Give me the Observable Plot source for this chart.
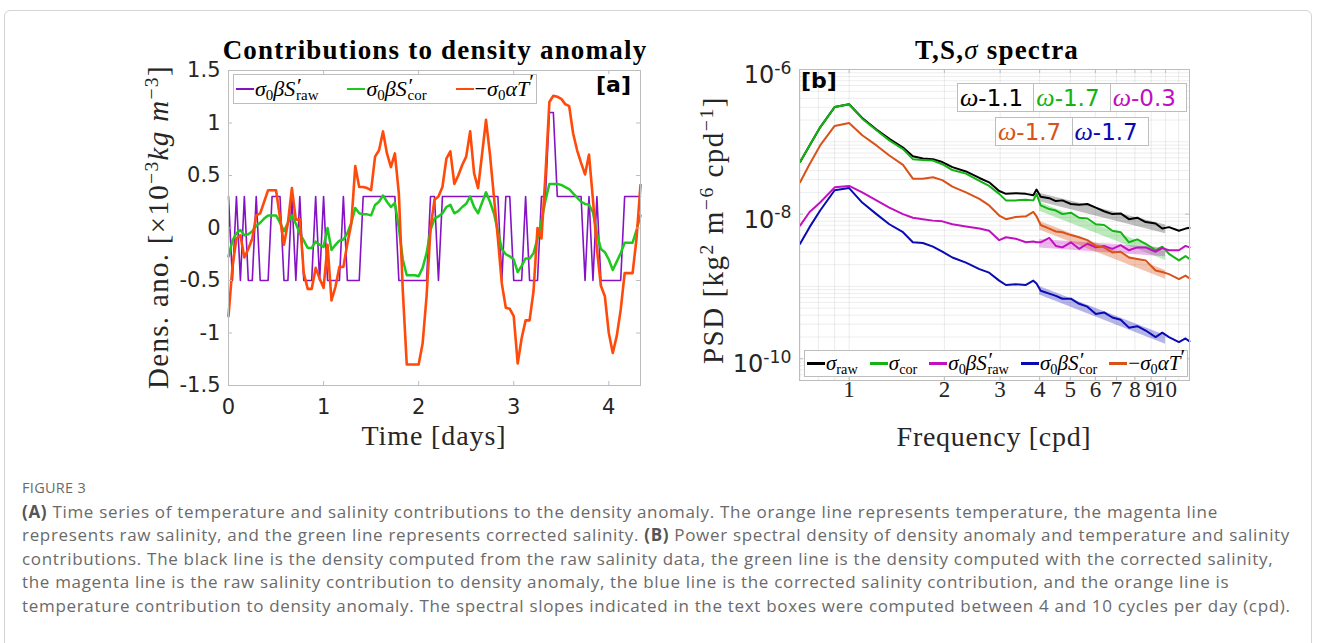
<!DOCTYPE html>
<html><head><meta charset="utf-8">
<script src="https://cdn.jsdelivr.net/npm/d3@7"></script>
<script src="https://cdn.jsdelivr.net/npm/@observablehq/plot@0.6"></script>
<style>
body{margin:0;background:#fff;}
#wrap{position:relative;width:1328px;height:643px;overflow:hidden;background:#fff;}
#frame{position:absolute;left:4px;top:10px;width:1306px;height:700px;border:1px solid #d4d4d4;border-radius:6px;}
.abs{position:absolute;white-space:nowrap;}
.serif{font-family:"Liberation Serif","DejaVu Serif",serif;}
.sans{font-family:"DejaVu Sans",sans-serif;}
.title{font-weight:bold;font-size:27px;letter-spacing:1.2px;color:#000;transform:translateX(-50%);line-height:1;}
.lbl{font-size:28px;color:#262626;line-height:1;}
i{font-style:italic;}
.sb{font-size:0.68em;position:relative;top:0.3em;font-style:normal;}
.sp{font-size:0.68em;position:relative;top:-0.5em;}
.ss{display:inline-block;position:relative;}
.ss .pr{position:absolute;left:0.08em;top:-0.12em;font-size:1em;font-style:normal;}
.ss .rw{font-size:0.68em;position:relative;top:0.3em;font-style:normal;margin-left:0.05em;}
.legend{position:absolute;background:#fff;border:1px solid #bdbdbd;display:flex;align-items:center;justify-content:space-between;padding:0 2px;font-family:"Liberation Serif",serif;color:#000;white-space:nowrap;box-sizing:border-box;}
.item{display:inline-flex;align-items:center;}
.sw{display:inline-block;height:2.5px;margin-right:1px;}
.slope{position:absolute;display:flex;background:#fff;border:1px solid #bdbdbd;box-sizing:border-box;}
.slope div{flex:1;border-left:1px solid #bdbdbd;display:flex;align-items:center;padding-left:2px;font-family:"DejaVu Sans",sans-serif;font-size:23px;}
.slope div:first-child{border-left:none;}
.slope i{font-family:"Liberation Serif",serif;font-size:26px;}
#cap{position:absolute;left:22px;top:476px;font-family:"Open Sans","Noto Sans",sans-serif;color:#6a6a6a;font-size:17px;letter-spacing:0.68px;line-height:23.5px;white-space:nowrap;}
#cap .fig{font-size:14.5px;letter-spacing:0.3px;}
#cap b{color:#555;}
</style></head><body>
<div id="wrap">
<div id="frame"></div>
</div>
<script>
// ---------- Panel (a): time series, hourly samples ----------
const sampleHours = 1 / 24; // sampling interval in days
const sigmaBetaSraw = [
  0.3,-0.5,0.3,-0.5,0.3,-0.5,-0.5,0.3,-0.5,-0.5,
  -0.5,0.3,0.3,0.3,-0.5,-0.5,0.3,-0.5,0.3,-0.5,
  -0.5,-0.5,0.3,-0.5,0.3,-0.5,-0.5,-0.5,-0.5,0.3,
  -0.5,-0.5,-0.5,-0.5,0.3,0.3,0.3,0.3,0.3,0.3,
  0.3,0.3,0.3,-0.5,-0.5,-0.5,-0.5,-0.5,-0.5,-0.5,
  -0.5,0.3,0.3,-0.5,0.3,0.3,0.3,0.3,0.3,0.3,
  0.3,0.3,0.3,0.3,0.3,0.3,0.3,0.3,0.3,-0.5,
  0.3,0.3,-0.5,-0.5,-0.5,0.3,-0.5,-0.5,-0.5,0.3,
  0.3,1.1,1.1,0.3,0.3,0.3,0.3,0.3,0.3,0.3,
  -0.5,0.3,-0.5,0.3,-0.5,-0.5,-0.5,-0.5,-0.5,-0.5,
  0.3,0.3,0.3,0.3,0.3];
const sigmaBetaScor = [
  -0.27,-0.12,-0.05,-0.02,-0.07,-0.06,-0.03,0.02,0.05,0.09,
  0.12,0.12,0.12,0.05,-0.03,0.05,0.12,0.04,-0.05,-0.12,
  -0.19,-0.19,-0.13,-0.16,-0.18,0.0,-0.21,-0.16,-0.12,-0.11,
  -0.05,0.05,0.19,0.14,0.13,0.13,0.12,0.22,0.25,0.31,
  0.25,0.2,0.24,0.0,-0.3,-0.45,-0.45,-0.45,-0.46,-0.38,
  -0.24,-0.02,0.09,0.11,0.14,0.2,0.22,0.14,0.16,0.2,
  0.23,0.3,0.2,0.14,0.24,0.34,0.25,0.14,-0.03,-0.2,
  -0.25,-0.27,-0.3,-0.42,-0.36,-0.29,-0.29,-0.24,-0.1,0.07,
  0.26,0.42,0.42,0.42,0.41,0.39,0.37,0.33,0.29,0.25,
  0.23,0.22,0.15,-0.05,-0.2,-0.23,-0.3,-0.4,-0.32,-0.24,
  -0.14,-0.14,-0.14,-0.02,0.12];
const sigmaAlphaT = [
  -0.84,-0.37,-0.1,-0.07,-0.28,-0.2,-0.1,0.12,0.14,0.25,
  0.36,0.36,0.36,0.1,-0.16,0.05,0.38,0.08,0.08,-0.43,
  -0.58,-0.58,-0.38,-0.48,-0.57,-0.16,-0.69,-0.56,-0.37,-0.37,
  -0.15,0.04,0.59,0.39,0.39,0.38,0.36,0.68,0.74,0.92,
  0.71,0.58,0.71,0.33,-0.6,-1.3,-1.3,-1.3,-1.3,-1.1,
  -0.65,0.0,0.27,0.3,0.39,0.66,0.73,0.42,0.5,0.6,
  0.68,0.92,0.52,0.38,0.7,1.03,0.7,0.3,-0.1,-0.53,
  -0.76,-0.77,-0.84,-1.29,-1.05,-0.88,-0.88,-0.6,0.0,-0.1,
  0.5,1.2,1.26,1.25,1.23,1.18,1.16,0.9,0.74,0.62,
  0.51,0.7,0.27,-0.2,-0.55,-0.65,-1.0,-1.19,-1.03,-0.78,
  -0.43,-0.43,-0.43,-0.1,0.41];
const xTicksA = [0, 1, 2, 3, 4];
const yTicksA = [-1.5, -1, -0.5, 0, 0.5, 1, 1.5];

// ---------- Panel (b): spectra (log10 PSD) ----------
const freq = [0.70,0.75,0.81,0.90,1.00,1.10,1.22,1.34,1.48,1.59,1.71,1.84,1.97,2.12,2.34,2.58,2.77,2.98,3.13,3.36,3.62,3.82,3.91,4.03,4.29,4.50,4.72,5.02,5.33,5.66,6.02,6.39,6.79,7.21,7.66,8.14,8.65,9.30,9.76,10.25,11.02,11.56,11.9];
const logSigmaRaw = [-7.28,-7.05,-6.80,-6.52,-6.48,-6.67,-6.83,-6.96,-7.08,-7.20,-7.23,-7.24,-7.28,-7.35,-7.41,-7.50,-7.56,-7.68,-7.72,-7.71,-7.72,-7.74,-7.66,-7.76,-7.78,-7.82,-7.81,-7.86,-7.87,-7.86,-7.91,-7.96,-8.00,-7.99,-8.07,-8.05,-8.11,-8.13,-8.20,-8.18,-8.23,-8.20,-8.19];
const logSigmaCor = [-7.28,-7.05,-6.80,-6.52,-6.48,-6.68,-6.84,-6.98,-7.10,-7.24,-7.25,-7.26,-7.31,-7.39,-7.44,-7.54,-7.61,-7.72,-7.81,-7.81,-7.80,-7.81,-7.72,-7.88,-7.93,-7.95,-8.00,-7.98,-8.05,-8.06,-8.14,-8.15,-8.23,-8.25,-8.39,-8.35,-8.41,-8.50,-8.45,-8.55,-8.64,-8.58,-8.62];
const logSraw = [-8.16,-7.97,-7.84,-7.63,-7.61,-7.70,-7.81,-7.91,-8.00,-8.05,-8.07,-8.09,-8.10,-8.14,-8.17,-8.20,-8.23,-8.36,-8.32,-8.34,-8.39,-8.38,-8.39,-8.39,-8.33,-8.44,-8.46,-8.39,-8.48,-8.41,-8.46,-8.44,-8.48,-8.43,-8.50,-8.46,-8.46,-8.52,-8.47,-8.50,-8.50,-8.44,-8.46];
const logScor = [-8.41,-8.18,-7.95,-7.67,-7.64,-7.84,-8.00,-8.14,-8.25,-8.39,-8.40,-8.45,-8.52,-8.60,-8.67,-8.76,-8.81,-8.92,-8.98,-8.97,-8.98,-8.92,-8.96,-9.06,-9.10,-9.13,-9.17,-9.17,-9.24,-9.28,-9.38,-9.36,-9.43,-9.46,-9.57,-9.55,-9.61,-9.70,-9.64,-9.70,-9.77,-9.72,-9.76];
const logT = [-7.56,-7.31,-7.05,-6.78,-6.74,-6.91,-7.05,-7.19,-7.32,-7.51,-7.51,-7.49,-7.53,-7.62,-7.70,-7.79,-7.88,-8.02,-8.07,-8.04,-8.03,-7.97,-8.03,-8.15,-8.20,-8.24,-8.25,-8.29,-8.32,-8.36,-8.44,-8.46,-8.53,-8.52,-8.60,-8.62,-8.64,-8.78,-8.80,-8.83,-8.90,-8.85,-8.89];
// spectral-slope fits between 4 and 10 cpd (log10 PSD at the ends)
const fitFreq = [4, 10];
const fitRaw = [-7.77, -8.21];
const fitCor = [-7.90, -8.58];
const fitSraw = [-8.41, -8.53];
const fitScor = [-9.06, -9.74];
const fitT = [-8.16, -8.84];
const slopeLabels = ["-1.1", "-1.7", "-0.3", "-1.7", "-1.7"];
const xTicksB = [1, 2, 3, 4, 5, 6, 7, 8, 9, 10];
const yTicksB = [1e-6, 1e-8, 1e-10];

const C = {purple:"#8512c4", greenA:"#1ec81e", orangeA:"#ff4a0a",
  black:"#000000", green:"#12b312", magenta:"#c010c0", blue:"#0a0ab4", orange:"#d95319", box:"#bdbdbd"};

const wrap = document.getElementById("wrap");
function add(html, cls, style) {
  const d = document.createElement("div");
  d.className = cls; d.setAttribute("style", style); d.innerHTML = html;
  wrap.appendChild(d); return d;
}

// ---------- Panel (a) ----------
const tsRows = sigmaAlphaT.map((v, i) => ({t: i * sampleHours, raw: sigmaBetaSraw[i], cor: sigmaBetaScor[i], temp: v}));
const tEnd = (sigmaAlphaT.length - 1) * sampleHours;
const WA = 412, HA = 315;
const plotA = Plot.plot({
  width: 530, height: 400, marginLeft: 98, marginRight: 20, marginTop: 10, marginBottom: 75,
  x: {domain: [0, tEnd]}, y: {domain: [-1.5, 1.5]},
  style: {background: "transparent", color: "#262626", overflow: "visible"},
  marks: [
    Plot.line(tsRows, {x: "t", y: "raw", stroke: C.purple, strokeWidth: 1.6}),
    Plot.line(tsRows, {x: "t", y: "cor", stroke: C.greenA, strokeWidth: 2.5}),
    Plot.line(tsRows, {x: "t", y: "temp", stroke: C.orangeA, strokeWidth: 2.6}),
    Plot.frame({stroke: C.box}),
    Plot.tickX(xTicksA, {x: d => d, stroke: C.box, insetTop: HA - 4}),
    Plot.tickX(xTicksA, {x: d => d, stroke: C.box, insetBottom: HA - 4}),
    Plot.tickY(yTicksA, {y: d => d, stroke: C.box, insetRight: WA - 4}),
    Plot.tickY(yTicksA, {y: d => d, stroke: C.box, insetLeft: WA - 4}),
    Plot.axisX({ticks: xTicksA, tickSize: 0, tickPadding: 14, fontSize: 21, fontFamily: "DejaVu Sans", tickFormat: d => String(d), label: null}),
    Plot.axisY({ticks: yTicksA, tickSize: 0, tickPadding: 8, fontSize: 21, fontFamily: "DejaVu Sans", tickFormat: d => String(d), label: null})
  ]
});
plotA.style.position = "absolute"; plotA.style.left = "130px"; plotA.style.top = "60px";
wrap.appendChild(plotA);

// ---------- Panel (b) ----------
const specRows = freq.map((f, i) => ({f, raw: 10 ** logSigmaRaw[i], cor: 10 ** logSigmaCor[i], sraw: 10 ** logSraw[i], scor: 10 ** logScor[i], temp: 10 ** logT[i]}));
const half = 0.06;
function band(fit) { return fitFreq.map((f, i) => ({f, lo: 10 ** (fit[i] - half), hi: 10 ** (fit[i] + half)})); }
const minorX = [0.7, 0.8, 0.9, 1, 2, 3, 4, 5, 6, 7, 8, 9, 10, 11];
const minorY = [];
for (let e = -11; e <= -7; e++) for (let m = 1; m <= 9; m++) { const v = m * 10 ** e; if (v >= 5e-11 && v <= 1e-6) minorY.push(v); }
minorY.push(1e-6);
const WB = 390, HB = 311;
const plotB = Plot.plot({
  width: 509, height: 400, marginLeft: 99, marginRight: 20, marginTop: 9, marginBottom: 80,
  x: {type: "log", domain: [0.697, 11.9], axis: null}, y: {type: "log", domain: [5e-11, 1e-6]},
  style: {background: "transparent", color: "#262626", overflow: "visible"},
  marks: [
    Plot.gridX(minorX, {x: d => d, stroke: "#000", strokeOpacity: 0.08}),
    Plot.gridY(minorY, {y: d => d, stroke: "#000", strokeOpacity: 0.07}),
    Plot.areaY(band(fitRaw), {x: "f", y1: "lo", y2: "hi", fill: C.black, fillOpacity: 0.25}),
    Plot.areaY(band(fitCor), {x: "f", y1: "lo", y2: "hi", fill: C.green, fillOpacity: 0.28}),
    Plot.areaY(band(fitSraw), {x: "f", y1: "lo", y2: "hi", fill: C.magenta, fillOpacity: 0.3}),
    Plot.areaY(band(fitScor), {x: "f", y1: "lo", y2: "hi", fill: C.blue, fillOpacity: 0.3}),
    Plot.areaY(band(fitT), {x: "f", y1: "lo", y2: "hi", fill: C.orange, fillOpacity: 0.35}),
    Plot.line(specRows, {x: "f", y: "raw", stroke: C.black, strokeWidth: 2}),
    Plot.line(specRows, {x: "f", y: "cor", stroke: C.green, strokeWidth: 2}),
    Plot.line(specRows, {x: "f", y: "sraw", stroke: C.magenta, strokeWidth: 2}),
    Plot.line(specRows, {x: "f", y: "scor", stroke: C.blue, strokeWidth: 2}),
    Plot.line(specRows, {x: "f", y: "temp", stroke: C.orange, strokeWidth: 2}),
    Plot.frame({stroke: C.box}),
    Plot.tickX(xTicksB, {x: d => d, stroke: C.box, insetTop: HB - 4}),
    Plot.tickX(xTicksB, {x: d => d, stroke: C.box, insetBottom: HB - 4}),
    Plot.tickY(yTicksB, {y: d => d, stroke: C.box, insetRight: WB - 4}),
    Plot.tickY(yTicksB, {y: d => d, stroke: C.box, insetLeft: WB - 4}),
    Plot.text(xTicksB, {x: d => d, frameAnchor: "bottom", dy: 16, text: d => String(d), fontSize: 23, fontFamily: "Liberation Serif", fill: "#262626"}),
    Plot.axisY({ticks: yTicksB, tickSize: 0, tickPadding: 8, dy: 6, fontSize: 24, fontFamily: "DejaVu Sans", tickFormat: d => "10^" + Math.round(Math.log10(d)), label: null})
  ]
});
plotB.querySelectorAll("text").forEach(t => {
  const m = /^10\^(-?\d+)$/.exec(t.textContent);
  if (m) {
    t.textContent = "10";
    const ts = document.createElementNS("http://www.w3.org/2000/svg", "tspan");
    ts.setAttribute("dy", "-0.55em"); ts.setAttribute("font-size", "0.72em");
    ts.textContent = m[1]; t.appendChild(ts);
  }
});
plotB.style.position = "absolute"; plotB.style.left = "700px"; plotB.style.top = "60px";
wrap.appendChild(plotB);

// ---------- Text overlays ----------
const S = sub => `<i>S</i><span class="ss"><span class="pr">′</span><span class="rw">${sub}</span></span>`;
const sig0 = `<i>σ</i><span class="sb">0</span>`;
const Tp = `<i>T</i><span class="sp" style="top:-0.3em;font-size:1em">′</span>`;
add("Contributions to density anomaly", "abs serif title", "left:435px;top:37px;");
add(`T,S,<i style="font-weight:normal">σ</i> spectra`, "abs serif title", "left:997px;top:37px;");
add(`Dens. ano. [×10<span class="sp">−3</span><i>kg m</i><span class="sp">−3</span>]`, "abs serif lbl", "left:158px;top:227px;letter-spacing:1.3px;font-size:29px;transform:translate(-50%,-50%) rotate(-90deg);");
add(`PSD [kg<span class="sp">2</span> m<span class="sp">−6</span> cpd<span class="sp">−1</span>]`, "abs serif lbl", "left:713px;top:230px;letter-spacing:1.5px;font-size:29px;transform:translate(-50%,-50%) rotate(-90deg);");
add("Time [days]", "abs serif lbl", "left:434px;top:436px;letter-spacing:0.9px;transform:translate(-50%,-50%);");
add("Frequency [cpd]", "abs serif lbl", "left:994px;top:437px;letter-spacing:0.7px;transform:translate(-50%,-50%);");
add("[a]", "abs sans", "left:596px;top:72px;font-weight:bold;font-size:22px;color:#000;");
add("[b]", "abs sans", "left:801px;top:68px;font-weight:bold;font-size:22px;color:#000;");

const sw = (c) => `<span class="sw" style="background:${c};width:18px"></span>`;
const item = (c, html) => `<span class="item">${sw(c)}<span>${html}</span></span>`;
add(item(C.purple, `${sig0}<i>β</i>${S("raw")}`) + item(C.greenA, `${sig0}<i>β</i>${S("cor")}`) + item(C.orangeA, `−${sig0}<i>α</i>${Tp}`),
  "legend", "left:233px;top:74px;width:304px;height:30px;font-size:22px;");
add(item(C.black, `<i>σ</i><span class="sb">raw</span>`) + item(C.green, `<i>σ</i><span class="sb">cor</span>`) + item(C.magenta, `${sig0}<i>β</i>${S("raw")}`) + item(C.blue, `${sig0}<i>β</i>${S("cor")}`) + item(C.orange, `−${sig0}<i>α</i>${Tp}`),
  "legend", "left:804px;top:350px;width:384px;height:27px;font-size:21px;");

const cell = (c, s) => `<div style="color:${c}"><i>ω</i>${s}</div>`;
add(cell(C.black, slopeLabels[0]) + cell(C.green, slopeLabels[1]) + cell(C.magenta, slopeLabels[2]), "slope", "left:957px;top:83px;width:230px;height:29px;");
add(cell(C.orange, slopeLabels[3]) + cell(C.blue, slopeLabels[4]), "slope", "left:995px;top:117px;width:154px;height:29px;");

const cap = add(`<div class="fig">FIGURE 3</div>
<b>(A)</b> Time series of temperature and salinity contributions to the density anomaly. The orange line represents temperature, the magenta line<br>
represents raw salinity, and the green line represents corrected salinity. <b>(B)</b> Power spectral density of density anomaly and temperature and salinity<br>
contributions. The black line is the density computed from the raw salinity data, the green line is the density computed with the corrected salinity,<br>
the magenta line is the raw salinity contribution to density anomaly, the blue line is the corrected salinity contribution, and the orange line is<br>
temperature contribution to density anomaly. The spectral slopes indicated in the text boxes were computed between 4 and 10 cycles per day (cpd).`, "", "");
cap.id = "cap";
</script>
</body></html>
